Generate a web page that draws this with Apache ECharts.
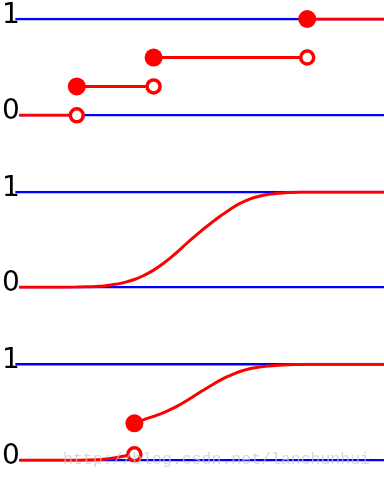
<!DOCTYPE html>
<html>
<head>
<meta charset="utf-8">
<script src="https://cdn.jsdelivr.net/npm/echarts@6/dist/echarts.min.js"></script>
<style>html,body{margin:0;padding:0;background:#fff}#c{width:384px;height:480px}</style>
</head>
<body>
<div id="c"></div>
<script>
// ---- data ----
const levelTicks = [0, 1];
const xMin = 0, xMax = 10;
const blueStartTop = 0.4;     // where the level-1 reference lines begin
const blueStartBottom = 0.5;  // where the level-0 reference lines begin
const redStart = 0.5;

// Panel 1: discrete CDF
const stepJumpsX = [2, 4, 8];
const stepLevels = [0, 0.3, 0.6, 1];

// Panel 2: continuous CDF
const contX = [0.5, 1.0, 1.5, 2.0, 2.25, 2.5, 2.75, 3.0, 3.25, 3.5, 3.75, 4.0, 4.25, 4.5, 4.75, 5.0, 5.25, 5.5, 5.75, 6.0, 6.25, 6.5, 6.75, 7.0, 7.25, 7.5, 7.75, 8.0, 9.0, 10];
const contY = [0, 0, 0.001, 0.003, 0.005, 0.009, 0.017, 0.031, 0.052, 0.082, 0.125, 0.18, 0.25, 0.33, 0.42, 0.51, 0.595, 0.675, 0.75, 0.82, 0.88, 0.925, 0.955, 0.975, 0.987, 0.994, 0.998, 1, 1, 1];

// Panel 3: mixed CDF
const mixJumpX = 3.5;
const mixLeftX = [0.5, 1.0, 1.5, 2.0, 2.25, 2.5, 2.75, 3.0, 3.25, 3.5];
const mixLeftY = [0, 0, 0, 0.001, 0.002, 0.006, 0.014, 0.027, 0.045, 0.0625];
const mixRightX = [3.5, 3.75, 4.0, 4.25, 4.5, 4.75, 5.0, 5.25, 5.5, 5.75, 6.0, 6.25, 6.5, 6.75, 7.0, 7.25, 7.5, 7.75, 8.0, 9.0, 10];
const mixRightY = [0.385, 0.423, 0.458, 0.495, 0.54, 0.595, 0.655, 0.72, 0.78, 0.838, 0.885, 0.925, 0.953, 0.971, 0.983, 0.99, 0.995, 0.998, 1, 1, 1];

const watermark = 'http://blog.csdn.net/lanchunhui';

// ---- build ----
const RED = '#ff0000', BLUE = '#0000ff';
const zip = (xs, ys) => xs.map((x, i) => [x, ys[i]]);

const grids = [
  {left: 0, right: 0, top: 19, height: 96.3, outerBoundsMode: 'none', containLabel: false},
  {left: 0, right: 0, top: 192, height: 95.3, outerBoundsMode: 'none', containLabel: false},
  {left: 0, right: 0, top: 364.3, height: 96, outerBoundsMode: 'none', containLabel: false}
];
const xAxes = grids.map((g, i) => ({
  type: 'value', gridIndex: i, min: xMin, max: xMax,
  show: false, splitLine: {show: false}
}));
const yAxes = grids.map((g, i) => ({
  type: 'value', gridIndex: i, min: levelTicks[0], max: levelTicks[1], interval: 1,
  axisLine: {show: false}, axisTick: {show: false}, splitLine: {show: false},
  axisLabel: {
    inside: true, margin: 2, fontSize: 28, fontFamily: 'DejaVu Sans', color: '#000',
    verticalAlign: 'bottom', lineHeight: 7
  }
}));

const series = [];
function line(idx, data, color, width, smooth, z) {
  series.push({
    type: 'line', xAxisIndex: idx, yAxisIndex: idx, data: data,
    showSymbol: false, symbol: 'none', smooth: smooth ? 0.5 : false,
    lineStyle: {color: color, width: width}, z: z, silent: true, animation: false
  });
}
function dots(idx, data, open, z) {
  series.push({
    type: 'scatter', xAxisIndex: idx, yAxisIndex: idx, data: data,
    symbol: 'circle', symbolSize: open ? 13 : 18,
    itemStyle: open ? {color: '#fff', borderColor: RED, borderWidth: 3.5, opacity: 1} : {color: RED, borderWidth: 0, opacity: 1},
    z: z, silent: true, animation: false
  });
}
// blue reference lines
for (let i = 0; i < 3; i++) {
  line(i, [[blueStartTop, 1], [xMax, 1]], BLUE, 2.5, false, 2);
  line(i, [[blueStartBottom, 0], [xMax, 0]], BLUE, 2.5, false, 2);
}
// panel 1 steps
const edges = [redStart].concat(stepJumpsX).concat([xMax]);
for (let k = 0; k < stepLevels.length; k++) {
  line(0, [[edges[k], stepLevels[k]], [edges[k + 1], stepLevels[k]]], RED, 3, false, 3);
}
dots(0, stepJumpsX.map((x, k) => [x, stepLevels[k]]), true, 5);
dots(0, stepJumpsX.map((x, k) => [x, stepLevels[k + 1]]), false, 5);

// panel 2
line(1, zip(contX, contY), RED, 3, true, 3);

// panel 3
line(2, zip(mixLeftX, mixLeftY), RED, 3, true, 3);
line(2, zip(mixRightX, mixRightY), RED, 3, true, 3);
dots(2, [[mixJumpX, mixLeftY[mixLeftY.length - 1]]], true, 5);
dots(2, [[mixJumpX, mixRightY[0]]], false, 5);

const chart = echarts.init(document.getElementById('c'), null, {renderer: 'canvas'});
chart.setOption({
  animation: false,
  backgroundColor: '#fff',
  grid: grids, xAxis: xAxes, yAxis: yAxes, series: series,
  graphic: [{
    type: 'text', left: 63, top: 451, z: 100, silent: true,
    style: {text: watermark, fontFamily: 'Liberation Mono', fontSize: 16.5, fill: 'rgba(200,200,200,0.7)'}
  }]
});
</script>
</body>
</html>
